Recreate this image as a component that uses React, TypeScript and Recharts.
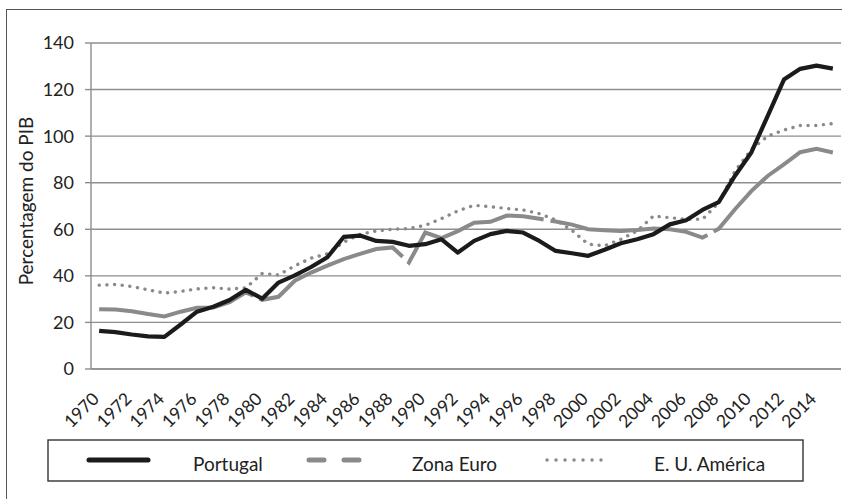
import { LineChart, Line, XAxis, YAxis, CartesianGrid } from "recharts"

// Dívida pública em % do PIB, 1970-2015
const YEARS = [
  1970, 1971, 1972, 1973, 1974, 1975, 1976, 1977, 1978, 1979,
  1980, 1981, 1982, 1983, 1984, 1985, 1986, 1987, 1988, 1989,
  1990, 1991, 1992, 1993, 1994, 1995, 1996, 1997, 1998, 1999,
  2000, 2001, 2002, 2003, 2004, 2005, 2006, 2007, 2008, 2009,
  2010, 2011, 2012, 2013, 2014, 2015,
]

const PORTUGAL = [
  16.4, 15.8, 14.8, 14.0, 13.8, 19.1, 24.6, 26.7, 29.6, 34.0,
  30.2, 37.1, 40.2, 43.8, 48.0, 56.7, 57.3, 55.0, 54.6, 52.9,
  53.6, 55.7, 50.0, 55.0, 57.9, 59.3, 58.6, 55.0, 50.7, 49.7,
  48.6, 51.2, 54.0, 55.7, 57.9, 62.1, 63.9, 68.3, 71.7, 83.0,
  93.0, 108.6, 124.3, 128.9, 130.3, 129.0,
]

const ZONA_EURO = [
  25.7, 25.5, 24.8, 23.6, 22.6, 24.6, 26.3, 26.4, 28.7, 32.9,
  29.7, 31.0, 37.9, 41.4, 44.4, 47.2, 49.4, 51.5, 52.2, 45.7,
  58.6, 56.2, 59.2, 62.8, 63.2, 65.9, 65.6, 64.5, 63.3, 62.0,
  60.0, 59.6, 59.3, 59.7, 60.3, 60.0, 58.9, 56.4, 60.2, 68.6,
  76.4, 82.9, 87.9, 93.1, 94.6, 93.0,
]

const EUA = [
  36.0, 36.3, 35.4, 34.0, 32.6, 33.3, 34.4, 34.9, 34.3, 34.9,
  41.0, 40.4, 44.3, 47.6, 49.5, 54.5, 57.8, 59.3, 60.0, 60.3,
  61.7, 64.6, 67.9, 70.3, 69.7, 68.9, 68.3, 66.7, 64.0, 59.5,
  53.6, 52.9, 55.7, 59.3, 65.7, 65.0, 64.3, 64.3, 71.4, 85.0,
  94.3, 100.0, 102.6, 104.6, 104.6, 105.4,
]

const Y_TICKS = [0, 20, 40, 60, 80, 100, 120, 140]
const X_LABELS = YEARS.filter((y) => y % 2 === 0)
// tick marks sit between categories, like the original
const X_MARKS = [...YEARS.map((y) => y - 0.5), YEARS[YEARS.length - 1] + 0.5]

const SERIES_NAMES = ["Portugal", "Zona Euro", "E. U. América"]

const FONT = "Lato, 'Open Sans', sans-serif"
const GRID = "#8e8e8e"
const BLACK = "#1b1b1b"
const GREY = "#8a8a8a"

const data = YEARS.map((year, i) => ({
  year,
  pt: PORTUGAL[i],
  ze: ZONA_EURO[i],
  us: EUA[i],
}))

function YearTick({ x, y, payload }: any) {
  const ax = x + 1
  const ay = y + 29
  return (
    <text
      x={ax}
      y={ay}
      transform={`rotate(-45, ${ax}, ${ay})`}
      textAnchor="end"
      fontFamily={FONT}
      fontSize={17.5}
      fill="#222"
    >
      {payload.value}
    </text>
  )
}

function LegendBox() {
  return (
    <svg
      width={757}
      height={43}
      style={{ position: "absolute", left: 47, top: 439 }}
    >
      <rect x={1} y={1} width={755} height={41} fill="#fff" stroke="#333" strokeWidth={1.4} />
      <line x1={42} y1={21} x2={101} y2={21} stroke={BLACK} strokeWidth={5} strokeLinecap="round" />
      <line
        x1={262}
        y1={21}
        x2={314}
        y2={21}
        stroke={GREY}
        strokeWidth={5}
        strokeLinecap="round"
        strokeDasharray="15 20"
      />
      <line
        x1={500}
        y1={21}
        x2={554}
        y2={21}
        stroke={GREY}
        strokeWidth={3.4}
        strokeLinecap="round"
        strokeDasharray="0.1 8.9"
      />
      <text x={146} y={32} fontFamily={FONT} fontSize={19} fill="#222">
        {SERIES_NAMES[0]}
      </text>
      <text x={365} y={32} fontFamily={FONT} fontSize={19} fill="#222">
        {SERIES_NAMES[1]}
      </text>
      <text x={607} y={32} fontFamily={FONT} fontSize={19} fill="#222">
        {SERIES_NAMES[2]}
      </text>
    </svg>
  )
}

export default function App() {
  return (
    <div style={{ position: "relative", width: 842, height: 499, overflow: "hidden", background: "#fff" }}>
      <style>{`body{margin:0}`}</style>
      <div
        style={{
          position: "absolute",
          left: 6,
          top: 9,
          width: 1000,
          height: 1000,
          border: "1px solid #555",
        }}
      />
      <div style={{ position: "absolute", left: 0, top: 0 }}>
        <LineChart
          width={842}
          height={499}
          data={data}
          margin={{ top: 43, right: 1, bottom: 130, left: 31 }}
        >
          <CartesianGrid horizontal vertical={false} stroke={GRID} strokeWidth={1.4} />
          <XAxis
            xAxisId="marks"
            type="number"
            dataKey="year"
            domain={[X_MARKS[0], X_MARKS[X_MARKS.length - 1]]}
            ticks={X_MARKS}
            interval={0}
            tick={false}
            height={0.01}
            tickSize={5}
            axisLine={{ stroke: GRID, strokeWidth: 1.4 }}
            tickLine={{ stroke: GRID, strokeWidth: 1.4 }}
          />
          <XAxis
            xAxisId="labels"
            type="number"
            dataKey="year"
            domain={[X_MARKS[0], X_MARKS[X_MARKS.length - 1]]}
            ticks={X_LABELS}
            interval={0}
            height={0.01}
            axisLine={false}
            tickLine={false}
            tickSize={0}
            tick={<YearTick />}
          />
          <YAxis
            domain={[0, 140]}
            ticks={Y_TICKS}
            width={60}
            tickSize={6}
            tickMargin={11}
            axisLine={{ stroke: GRID, strokeWidth: 1.4 }}
            tickLine={{ stroke: GRID, strokeWidth: 1.4 }}
            tick={{ fontFamily: FONT, fontSize: 18, fill: "#222" }}
            label={{
              content: () => (
                <text
                  x={25}
                  y={201}
                  transform="rotate(-90, 25, 201)"
                  textAnchor="middle"
                  dominantBaseline="central"
                  fontFamily={FONT}
                  fontSize={19}
                  fill="#222"
                >
                  Percentagem do PIB
                </text>
              ),
            }}
          />
          <Line
            xAxisId="marks"
            dataKey="us"
            name={SERIES_NAMES[2]}
            stroke={GREY}
            strokeWidth={3.4}
            strokeDasharray="0.1 7.6"
            strokeLinecap="round"
            dot={false}
            isAnimationActive={false}
          />
          <Line
            xAxisId="marks"
            dataKey="ze"
            name={SERIES_NAMES[1]}
            stroke={GREY}
            strokeWidth={4}
            strokeDasharray="160 7"
            dot={false}
            isAnimationActive={false}
          />
          <Line
            xAxisId="marks"
            dataKey="pt"
            name={SERIES_NAMES[0]}
            stroke={BLACK}
            strokeWidth={4.2}
            strokeLinejoin="round"
            dot={false}
            isAnimationActive={false}
          />
        </LineChart>
      </div>
      <LegendBox />
    </div>
  )
}
